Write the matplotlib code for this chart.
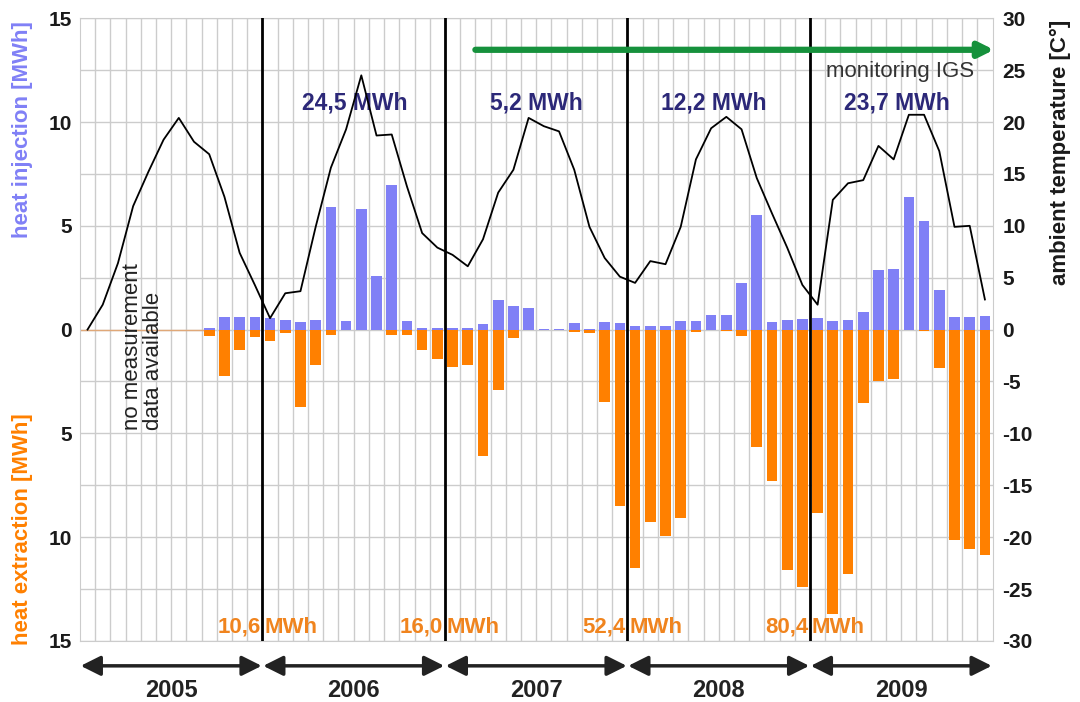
import matplotlib
matplotlib.use("Agg")
import matplotlib.pyplot as plt
import numpy as np

plt.rcParams['font.family'] = ['Liberation Sans', 'DejaVu Sans']

# monthly values Jan 2005 .. Dec 2009
years = ['2005', '2006', '2007', '2008', '2009']
injection = [0, 0, 0, 0, 0, 0, 0, 0, 0.08, 0.6, 0.6, 0.6,
             0.58, 0.48, 0.35, 0.48, 5.93, 0.4, 5.8, 2.6, 6.97, 0.4, 0.06, 0.08,
             0.1, 0.1, 0.29, 1.44, 1.12, 1.04, 0.05, 0.02, 0.32, 0.02, 0.35, 0.32,
             0.19, 0.19, 0.19, 0.4, 0.4, 0.72, 0.72, 2.24, 5.5, 0.35, 0.45, 0.51,
             0.56, 0.4, 0.45, 0.83, 2.85, 2.92, 6.41, 5.21, 1.92, 0.59, 0.59, 0.64]
extraction = [0, 0, 0, 0, 0, 0, 0, 0, 0.3, 2.26, 1.0, 0.35,
              0.56, 0.16, 3.73, 1.73, 0.24, 0, 0, 0, 0.24, 0.24, 1.0, 1.4,
              1.81, 1.72, 6.1, 2.92, 0.4, 0, 0, 0, 0.13, 0.16, 3.48, 8.5,
              11.5, 9.26, 9.93, 9.07, 0.1, 0, 0.05, 0.32, 5.66, 7.29, 11.57, 12.39,
              8.85, 13.7, 11.78, 3.52, 2.48, 2.4, 0, 0.05, 1.84, 10.14, 10.58, 10.85]
temperature = [0.0, 2.4, 6.4, 11.9, 15.2, 18.3, 20.4, 18.1, 16.9, 12.8, 7.4, 4.3,
               1.1, 3.5, 3.7, 9.9, 15.6, 19.3, 24.5, 18.7, 18.8, 13.8, 9.3, 7.9,
               7.2, 6.1, 8.7, 13.2, 15.4, 20.4, 19.6, 19.1, 15.4, 9.9, 6.9, 5.1,
               4.5, 6.6, 6.3, 9.9, 16.4, 19.4, 20.5, 19.3, 14.6, 11.2, 7.9, 4.3,
               2.4, 12.5, 14.1, 14.4, 17.7, 16.4, 20.7, 20.7, 17.2, 9.9, 10.0, 2.9]
injection_totals = ['24,5 MWh', '5,2 MWh', '12,2 MWh', '23,7 MWh']
injection_pos = [17.6, 29.5, 41.2, 53.2]
extraction_totals = ['10,6', '16,0', '52,4', '80,4']

blue = '#8080f6'
orange = '#ff8000'
navy = '#2c2878'
orange_txt = '#f0841e'

months = np.arange(len(injection))

fig, ax = plt.subplots(figsize=(10.8, 7.02), dpi=100)
fig.subplots_adjust(left=0.074, right=0.919, top=0.974, bottom=0.087)

# bars
ax.bar(months, injection, width=0.7, color=blue, zorder=2)
ax.bar(months, [-v for v in extraction], width=0.7, color=orange, zorder=2)
ax.plot([-0.5, 7.6], [0, 0], color='#e0a878', lw=1, zorder=2)

ax.set_xlim(-0.5, len(months) - 0.5)
ax.set_ylim(-15, 15)
ax.set_yticks(np.arange(-15, 16, 5))
ax.set_yticklabels([str(abs(v)) for v in range(-15, 16, 5)], fontsize=15,
                   fontweight='bold', color='#1a1a1a')
ax.set_yticks(np.arange(-12.5, 15, 5), minor=True)
ax.set_xticks(np.arange(0.5, len(months) - 1, 1), minor=True)
ax.set_xticks([])
ax.grid(True, which='both', color='#cccccc', lw=1, zorder=0)
ax.set_axisbelow(True)
ax.tick_params(which='both', length=0, pad=6)
for s in ax.spines.values():
    s.set_color('#cccccc')

# year separators
for b in [11.5, 23.5, 35.5, 47.5]:
    ax.axvline(b, color='black', lw=2, zorder=3)

# temperature on the right axis
ax2 = ax.twinx()
ax2.plot(months, temperature, color='black', lw=1.3, zorder=4)
ax2.set_ylim(-30, 30)
ax2.set_yticks(np.arange(-30, 31, 5))
ax2.set_yticklabels([str(v) for v in range(-30, 31, 5)], fontsize=15,
                    fontweight='bold', color='#1a1a1a')
ax2.tick_params(length=0, pad=7)
for s in ax2.spines.values():
    s.set_visible(False)

# axis labels
ax.text(-0.0624, 0.822, 'heat injection [MWh]', transform=ax.transAxes, rotation=90,
        ha='center', va='center', fontsize=16, fontweight='bold', color=blue)
ax.text(-0.0624, 0.18, 'heat extraction [MWh]', transform=ax.transAxes, rotation=90,
        ha='center', va='center', fontsize=16, fontweight='bold', color=orange)
ax.text(1.074, 0.785, 'ambient temperature [C°]', transform=ax.transAxes, rotation=90,
        ha='center', va='center', fontsize=16, fontweight='bold', color='#1a1a1a')

# totals
for txt, x in zip(injection_totals, injection_pos):
    ax.text(x, 10.93, txt, ha='center', va='center', fontsize=16.5,
            fontweight='bold', color=navy, zorder=5)
for txt, b in zip(extraction_totals, [11.5, 23.5, 35.5, 47.5]):
    ax.text(b - 0.12, -14.35, txt, ha='right', va='center', fontsize=16,
            fontweight='bold', color=orange_txt, zorder=5)
    ax.text(b + 0.12, -14.35, 'MWh', ha='left', va='center', fontsize=16,
            fontweight='bold', color=orange_txt, zorder=5)

# monitoring arrow
ax.annotate('', xy=(59.6, 13.48), xytext=(25.5, 13.48), annotation_clip=False,
            arrowprops=dict(arrowstyle='-|>', lw=4.5, color='#16913c',
                            mutation_scale=22, shrinkA=0, shrinkB=0), zorder=5)
ax.text(58.3, 12.42, 'monitoring IGS', ha='right', va='center', fontsize=16,
        color='#333333', zorder=5)

ax.text(3.64, -0.82, 'no measurement\ndata available', rotation=90, ha='center',
        va='center', multialignment='left', fontsize=16, color='#222222',
        linespacing=1.0, zorder=5)

# year arrows below the chart
bounds = [-0.5, 11.5, 23.5, 35.5, 47.5, 59.5]
for i, yr in enumerate(years):
    x0, x1 = bounds[i], bounds[i + 1]
    ax.annotate('', xy=(x1 - 0.05, -0.04), xytext=(x0 + 0.05, -0.04),
                xycoords=('data', 'axes fraction'), textcoords=('data', 'axes fraction'),
                annotation_clip=False,
                arrowprops=dict(arrowstyle='<|-|>', lw=2.5, color='#222222',
                                mutation_scale=30, shrinkA=0, shrinkB=0))
    ax.text((x0 + x1) / 2, -0.08, yr, transform=ax.get_xaxis_transform(),
            ha='center', va='center', fontsize=17, fontweight='bold', color='#222222')

fig.savefig('out.png', dpi=100)
